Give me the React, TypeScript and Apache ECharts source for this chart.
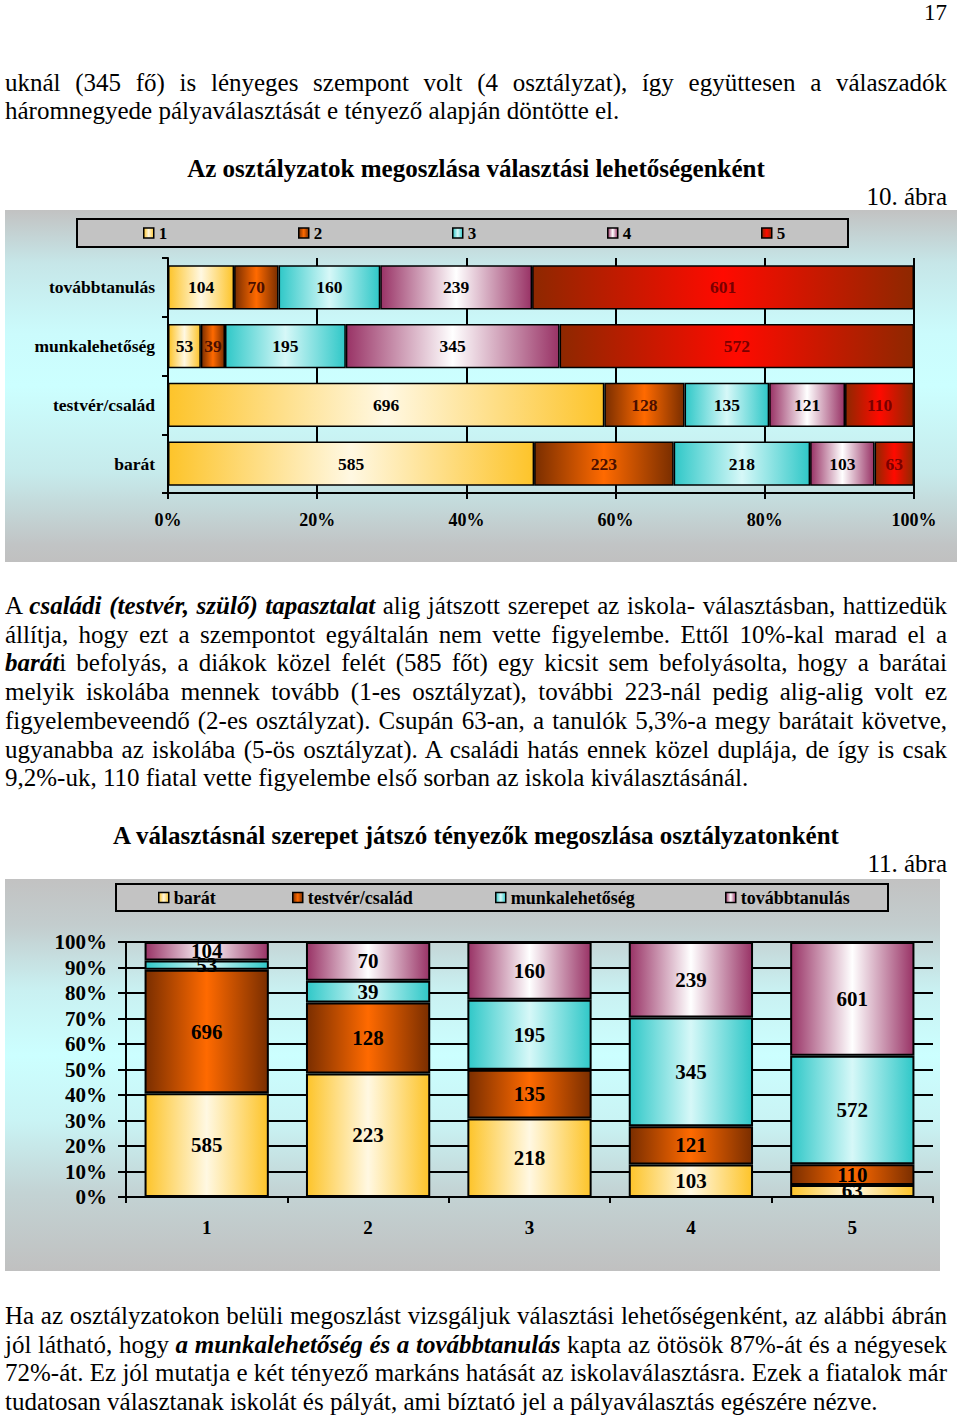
import React, { useEffect, useLayoutEffect, useRef } from "react";
import * as echarts from "echarts";

const FONT = '"Liberation Serif", "Times New Roman", serif';

// ---- data ----
const factors = ["továbbtanulás", "munkalehetőség", "testvér/család", "barát"];
const grades = ["1", "2", "3", "4", "5"];
const tovabbtanulas = [104, 70, 160, 239, 601];
const munkalehetoseg = [53, 39, 195, 345, 572];
const testverCsalad = [696, 128, 135, 121, 110];
const barat = [585, 223, 218, 103, 63];
const percentTicks1 = [0, 20, 40, 60, 80, 100];
const percentTicks2 = [0, 10, 20, 30, 40, 50, 60, 70, 80, 90, 100];

const factorValues: Record<string, number[]> = {
  "továbbtanulás": tovabbtanulas,
  "munkalehetőség": munkalehetoseg,
  "testvér/család": testverCsalad,
  "barát": barat,
};

// ---- styles ----
const grad = (edge: string, center: string) =>
  new echarts.graphic.LinearGradient(0, 0, 1, 0, [
    { offset: 0, color: edge },
    { offset: 0.5, color: center },
    { offset: 1, color: edge },
  ]);

const gradeColors = [
  () => grad("#FDC42A", "#FFF8E2"),
  () => grad("#7A2E00", "#FF6A00"),
  () => grad("#30C8C8", "#D6F8F8"),
  () => grad("#993366", "#FFFFFF"),
  () => grad("#8E2800", "#FF0A00"),
];
const gradeLabelColors = ["#000", "#4a0f00", "#000", "#000", "#7a0000"];

function buildChart1() {
  const totals = factors.map((f) => factorValues[f].reduce((a, b) => a + b, 0));
  const legendX = [138, 293, 447, 602, 756];
  return {
    animation: false,
    textStyle: { fontFamily: FONT },
    graphic: [
      {
        type: "rect",
        shape: { x: 72, y: 9, width: 771, height: 28 },
        style: { fill: "#C3C3C3", stroke: "#000", lineWidth: 2 },
        z: 0,
      },
    ],
    legend: grades.map((g, i) => ({
      data: [g],
      left: legendX[i],
      top: 14,
      padding: 0,
      itemWidth: 10,
      itemHeight: 10,
      selectedMode: false,
      icon: "rect",
      itemStyle: { borderColor: "#000", borderWidth: 1.5 },
      textStyle: { fontFamily: FONT, fontWeight: "bold", fontSize: 17, color: "#000", lineHeight: 18 },
      z: 5,
    })),
    grid: { left: 163, top: 48, width: 746, height: 235 },
    xAxis: {
      type: "value",
      min: percentTicks1[0],
      max: percentTicks1[percentTicks1.length - 1],
      interval: 20,
      axisLine: { show: true, lineStyle: { color: "#000", width: 2 } },
      axisTick: { show: true, length: 6, lineStyle: { color: "#000", width: 2 } },
      splitLine: { show: true, lineStyle: { color: "#000", width: 2 } },
      axisLabel: {
        formatter: "{value}%",
        fontFamily: FONT,
        fontWeight: "bold",
        fontSize: 18,
        color: "#000",
        margin: 18,
      },
    },
    yAxis: {
      type: "category",
      inverse: true,
      data: factors,
      axisLine: { show: true, lineStyle: { color: "#000", width: 2 } },
      axisTick: { show: true, length: 6, lineStyle: { color: "#000", width: 2 } },
      axisLabel: { fontFamily: FONT, fontWeight: "bold", fontSize: 17.5, color: "#000", margin: 13 },
    },
    series: grades.map((g, gi) => ({
      name: g,
      type: "bar",
      stack: "total",
      barCategoryGap: "25%",
      itemStyle: { color: gradeColors[gi](), borderColor: "#000", borderWidth: 1.5 },
      label: {
        show: true,
        position: "inside",
        fontFamily: FONT,
        fontWeight: "bold",
        fontSize: 17.5,
        color: gradeLabelColors[gi],
        formatter: (p: any) => String(factorValues[factors[p.dataIndex]][gi]),
      },
      data: factors.map((f, fi) => (factorValues[f][gi] / totals[fi]) * 100),
    })),
  };
}

const chart2Factors = ["barát", "testvér/család", "munkalehetőség", "továbbtanulás"];
const chart2Colors = [
  () => grad("#FDC42A", "#FFF8E2"),
  () => grad("#7A2E00", "#FF6A00"),
  () => grad("#30C8C8", "#D6F8F8"),
  () => grad("#993366", "#FFFFFF"),
];

function buildChart2() {
  const colTotals = grades.map((_, gi) =>
    chart2Factors.reduce((s, f) => s + factorValues[f][gi], 0)
  );
  const legendX = [153, 287, 490, 720];
  return {
    animation: false,
    textStyle: { fontFamily: FONT },
    graphic: [
      {
        type: "rect",
        shape: { x: 111, y: 5, width: 772, height: 27 },
        style: { fill: "#C3C3C3", stroke: "#000", lineWidth: 2 },
        z: 0,
      },
    ],
    legend: chart2Factors.map((f, i) => ({
      data: [f],
      left: legendX[i],
      top: 9,
      padding: 0,
      itemWidth: 10,
      itemHeight: 10,
      selectedMode: false,
      icon: "rect",
      itemStyle: { borderColor: "#000", borderWidth: 1.5 },
      textStyle: { fontFamily: FONT, fontWeight: "bold", fontSize: 18, color: "#000", lineHeight: 19 },
      z: 5,
    })),
    grid: { left: 121, top: 63, width: 807, height: 255 },
    xAxis: {
      type: "category",
      data: grades,
      axisLine: { show: true, lineStyle: { color: "#000", width: 2 } },
      axisTick: { show: true, length: 6, lineStyle: { color: "#000", width: 2 } },
      axisLabel: { fontFamily: FONT, fontWeight: "bold", fontSize: 19, color: "#000", margin: 21 },
    },
    yAxis: {
      type: "value",
      min: percentTicks2[0],
      max: percentTicks2[percentTicks2.length - 1],
      interval: 10,
      axisLine: { show: true, lineStyle: { color: "#000", width: 2 } },
      axisTick: { show: true, length: 8, lineStyle: { color: "#000", width: 2 } },
      splitLine: { show: true, lineStyle: { color: "#000", width: 2 } },
      axisLabel: {
        formatter: "{value}%",
        fontFamily: FONT,
        fontWeight: "bold",
        fontSize: 21,
        color: "#000",
        margin: 19,
      },
    },
    series: chart2Factors.map((f, fi) => ({
      name: f,
      type: "bar",
      stack: "total",
      barCategoryGap: "23%",
      itemStyle: { color: chart2Colors[fi](), borderColor: "#000", borderWidth: 2 },
      label: {
        show: true,
        position: "inside",
        fontFamily: FONT,
        fontWeight: "bold",
        fontSize: 21,
        color: "#000",
        formatter: (p: any) => String(factorValues[f][p.dataIndex]),
      },
      data: grades.map((_, gi) => (factorValues[f][gi] / colTotals[gi]) * 100),
    })),
  };
}

const TEXT_W = 942;

function Line({ y, justify, children, size = 25 }: any) {
  const ref = useRef<HTMLDivElement>(null);
  useLayoutEffect(() => {
    const el = ref.current;
    if (!el || !justify) return;
    // measure natural width; tighten word spacing if the line is too long
    const probe = el.firstElementChild as HTMLElement;
    if (!probe) return;
    const w = probe.getBoundingClientRect().width;
    const spaces = (probe.textContent || "").split(" ").length - 1;
    if (w > TEXT_W && spaces > 0) {
      el.style.wordSpacing = `${(TEXT_W - w) / spaces - 0.2}px`;
    }
  }, [justify]);
  return (
    <div
      ref={ref}
      style={{
        position: "absolute",
        left: 5,
        width: TEXT_W,
        top: y - 15,
        height: 30,
        lineHeight: "30px",
        fontSize: size,
        whiteSpace: "nowrap",
        textAlign: justify ? "justify" : "left",
        textAlignLast: justify ? "justify" : "left",
      } as any}
    >
      <span>{children}</span>
    </div>
  );
}

const BI = ({ children }: any) => (
  <b>
    <i>{children}</i>
  </b>
);

export default function App() {
  const ref1 = useRef<HTMLDivElement>(null);
  const ref2 = useRef<HTMLDivElement>(null);

  useEffect(() => {
    const c1 = echarts.init(ref1.current!, undefined, { renderer: "svg" });
    c1.setOption(buildChart1() as any);
    const c2 = echarts.init(ref2.current!, undefined, { renderer: "svg" });
    c2.setOption(buildChart2() as any);
    return () => {
      c1.dispose();
      c2.dispose();
    };
  }, []);

  return (
    <div
      style={{
        position: "absolute",
        left: 0,
        top: 0,
        width: 960,
        height: 1415,
        background: "#fff",
        fontFamily: FONT,
        color: "#000",
        overflow: "hidden",
      }}
    >
      <div style={{ position: "absolute", right: 13, top: 2, fontSize: 23, lineHeight: "22px" }}>17</div>

      <Line y={83} justify>
        uknál (345 fő) is lényeges szempont volt (4 osztályzat), így együttesen a válaszadók
      </Line>
      <Line y={111}>háromnegyede pályaválasztását e tényező alapján döntötte el.</Line>

      <div
        style={{
          position: "absolute",
          left: 0,
          width: 952,
          top: 154,
          textAlign: "center",
          fontWeight: "bold",
          fontSize: 25,
          lineHeight: "30px",
        }}
      >
        Az osztályzatok megoszlása választási lehetőségenként
      </div>
      <div style={{ position: "absolute", right: 13, top: 182, fontSize: 25, lineHeight: "30px" }}>10. ábra</div>

      <div
        ref={ref1}
        style={{
          position: "absolute",
          left: 5,
          top: 210,
          width: 952,
          height: 352,
          background:
            "linear-gradient(to bottom, #c2c2c2 0%, #c6e6e8 15%, #cbfbfc 35%, #ccffff 50%, #c6eaeb 75%, #c1c4c5 95%, #c0c0c0 100%)",
        }}
      />

      <Line y={606} justify>
        A <BI>családi (testvér, szülő) tapasztalat</BI> alig játszott szerepet az iskola- választásban, hattizedük
      </Line>
      <Line y={635} justify>
        állítja, hogy ezt a szempontot egyáltalán nem vette figyelembe. Ettől 10%-kal marad el a
      </Line>
      <Line y={663} justify>
        <BI>barát</BI>i befolyás, a diákok közel felét (585 főt) egy kicsit sem befolyásolta, hogy a barátai
      </Line>
      <Line y={692} justify>
        melyik iskolába mennek tovább (1-es osztályzat), további 223-nál pedig alig-alig volt ez
      </Line>
      <Line y={721} justify>
        figyelembeveendő (2-es osztályzat). Csupán 63-an, a tanulók 5,3%-a megy barátait követve,
      </Line>
      <Line y={750} justify>
        ugyanabba az iskolába (5-ös osztályzat). A családi hatás ennek közel duplája, de így is csak
      </Line>
      <Line y={778}>9,2%-uk, 110 fiatal vette figyelembe első sorban az iskola kiválasztásánál.</Line>

      <div
        style={{
          position: "absolute",
          left: 0,
          width: 952,
          top: 821,
          textAlign: "center",
          fontWeight: "bold",
          fontSize: 25,
          lineHeight: "30px",
        }}
      >
        A választásnál szerepet játszó tényezők megoszlása osztályzatonként
      </div>
      <div style={{ position: "absolute", right: 13, top: 849, fontSize: 25, lineHeight: "30px" }}>11. ábra</div>

      <div
        ref={ref2}
        style={{
          position: "absolute",
          left: 5,
          top: 879,
          width: 935,
          height: 392,
          background:
            "linear-gradient(to bottom, #c2c2c2 0%, #c3cdce 12%, #c9f0f1 28%, #ccffff 45%, #c9f3f4 62%, #c3d3d4 80%, #c0c0c0 100%)",
        }}
      />

      <Line y={1316} justify>
        Ha az osztályzatokon belüli megoszlást vizsgáljuk választási lehetőségenként, az alábbi ábrán
      </Line>
      <Line y={1345} justify>
        jól látható, hogy <BI>a munkalehetőség és a továbbtanulás</BI> kapta az ötösök 87%-át és a négyesek
      </Line>
      <Line y={1373} justify>
        72%-át. Ez jól mutatja e két tényező markáns hatását az iskolaválasztásra. Ezek a fiatalok már
      </Line>
      <Line y={1402}>
        tudatosan választanak iskolát és pályát, ami bíztató jel a pályaválasztás egészére nézve.
      </Line>
    </div>
  );
}
